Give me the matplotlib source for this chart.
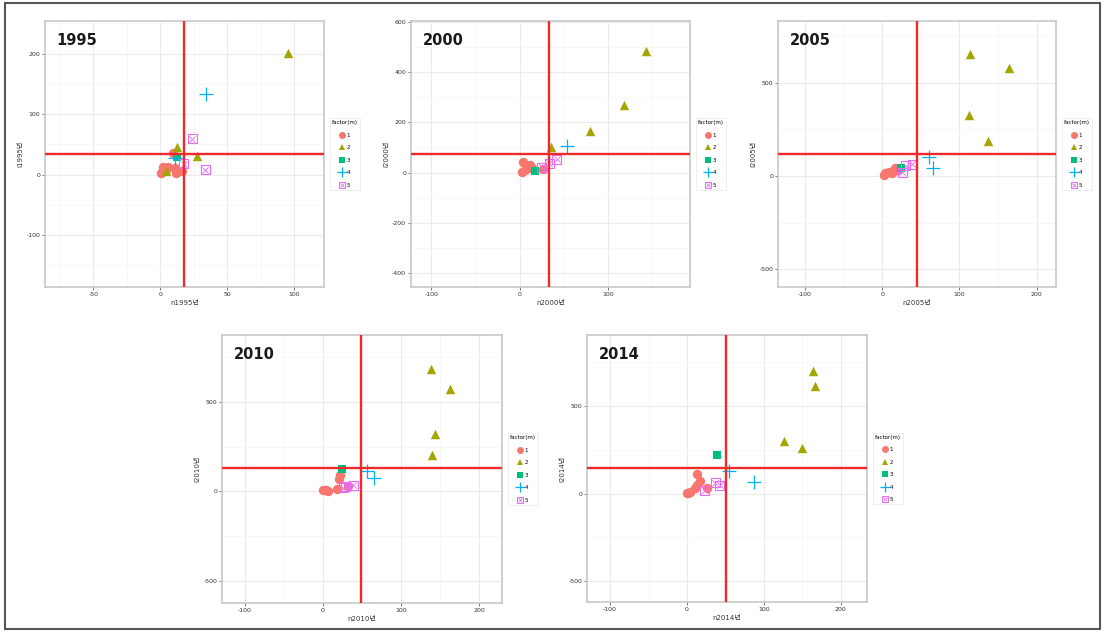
import matplotlib
matplotlib.use("Agg")
import matplotlib.pyplot as plt
from matplotlib.lines import Line2D
from matplotlib.patches import Rectangle

plt.rcParams['font.family'] = ['DejaVu Sans', 'Noto Sans CJK KR']
plt.rcParams['axes.unicode_minus'] = False

# ---------------- data ----------------
years = ["1995", "2000", "2005", "2010", "2014"]
factor_levels = ["1", "2", "3", "4", "5"]
factor_colors = ["#F8766D", "#A3A500", "#00BF7D", "#00B0F6", "#E76BF3"]

n_1995 = [9.4, 2.0, 0.5, 4.0, 5.5, 10.7, 12.0, 16.0, 95.0, 12.4, 27.6, 4.5, 12.4, 34.3, 11.0, 23.9, 17.6, 33.6]
i_1995 = [36.4, 12.0, 3.0, 8.0, 12.0, 10.6, 3.3, 6.0, 201.0, 45.0, 31.0, 6.0, 29.0, 133.0, 28.0, 59.0, 17.7, 7.8]
g_1995 = [1, 1, 1, 1, 1, 1, 1, 1, 2, 2, 2, 2, 3, 4, 4, 5, 5, 5]

n_2000 = [4.0, 2.2, 7.9, 11.7, 13.6, 9.7, 6.0, 26.7, 143.0, 118.0, 80.0, 36.0, 17.3, 54.0, 25.0, 33.5, 42.0]
i_2000 = [44.0, 4.0, 17.0, 30.6, 20.0, 28.0, 9.0, 13.5, 485.0, 269.0, 166.0, 103.0, 8.0, 105.0, 21.0, 37.0, 53.0]
g_2000 = [1, 1, 1, 1, 1, 1, 1, 1, 2, 2, 2, 2, 3, 4, 5, 5, 5]

n_2005 = [2.0, 4.0, 8.5, 14.0, 17.0, 20.0, 13.0, 114.0, 164.0, 112.7, 136.8, 24.6, 60.4, 66.0, 30.2, 38.8, 26.0]
i_2005 = [5.0, 14.0, 23.0, 27.0, 41.0, 32.0, 14.0, 657.0, 578.0, 325.0, 189.0, 41.0, 100.0, 41.0, 55.0, 64.0, 20.0]
g_2005 = [1, 1, 1, 1, 1, 1, 1, 2, 2, 2, 2, 3, 4, 4, 5, 5, 5]

n_2010 = [21.8, 21.0, 0.4, 3.8, 6.0, 17.5, 32.5, 138.0, 163.0, 143.0, 139.0, 24.0, 56.0, 65.4, 26.0, 39.0, 29.0]
i_2010 = [91.0, 72.0, 7.0, 7.0, 1.0, 13.0, 30.0, 681.0, 571.0, 318.0, 204.0, 128.0, 117.0, 76.0, 22.0, 35.0, 28.0]
g_2010 = [1, 1, 1, 1, 1, 1, 1, 2, 2, 2, 2, 3, 4, 4, 5, 5, 5]

n_2014 = [13.0, 16.5, 13.5, 11.0, 26.5, 1.3, 3.5, 0.0, 164.0, 166.0, 126.0, 150.0, 39.6, 54.7, 86.8, 37.0, 42.6, 23.0]
i_2014 = [114.0, 72.0, 47.6, 30.0, 34.0, 5.7, 9.0, 3.0, 702.0, 614.0, 301.0, 263.0, 219.0, 129.0, 66.0, 61.0, 47.6, 19.0]
g_2014 = [1, 1, 1, 1, 1, 1, 1, 1, 2, 2, 2, 2, 3, 4, 4, 5, 5, 5]

vline = [17.6, 33.5, 45.3, 49.0, 51.3]
hline = [34.2, 75.5, 117.8, 130.0, 146.5]

xlims = [(-86, 122), (-123, 193), (-135, 225), (-129, 229), (-130, 234)]
ylims = [(-186, 254), (-456, 604), (-596, 832), (-622, 873), (-620, 906)]
xticks = [[-50, 0, 50, 100], [-100, 0, 100], [-100, 0, 100, 200], [-100, 0, 100, 200], [-100, 0, 100, 200]]
yticks = [[-100, 0, 100, 200], [-400, -200, 0, 200, 400, 600], [-500, 0, 500], [-500, 0, 500], [-500, 0, 500]]

all_n = [n_1995, n_2000, n_2005, n_2010, n_2014]
all_i = [i_1995, i_2000, i_2005, i_2010, i_2014]
all_g = [g_1995, g_2000, g_2005, g_2010, g_2014]

# ---------------- layout (pixels) ----------------
W, H = 1104, 633
fig = plt.figure(figsize=(W / 100, H / 100), dpi=100)
boxes = [(45, 21, 324, 287), (411, 21, 690, 287), (778, 21, 1056, 287),
         (222, 335, 502, 603), (587, 335, 867, 602)]

fig.add_artist(Rectangle((5 / W, 1 - 629 / H), 1095 / W, 626 / H,
                         transform=fig.transFigure, fill=False,
                         edgecolor="#555555", linewidth=1.5))

grey92 = "#ebebeb"
marker_size = 46


def draw_points(ax, xs, ys, g):
    col = factor_colors[g - 1]
    if g == 1:
        ax.scatter(xs, ys, s=marker_size, marker="o", color=col, linewidths=0, zorder=3)
    elif g == 2:
        ax.scatter(xs, ys, s=marker_size, marker="^", color=col, linewidths=0, zorder=3)
    elif g == 3:
        ax.scatter(xs, ys, s=marker_size * 0.8, marker="s", color=col, linewidths=0, zorder=3)
    elif g == 4:
        ax.scatter(xs, ys, s=marker_size * 2.0, marker="+", color=col, linewidths=0.9, zorder=3)
    else:
        ax.scatter(xs, ys, s=marker_size * 0.9, marker="s", facecolors="none",
                   edgecolors=col, linewidths=0.8, zorder=3)
        ax.scatter(xs, ys, s=marker_size * 0.45, marker="x", color=col,
                   linewidths=0.6, zorder=3)


def minor_positions(t, lo, hi):
    step = t[1] - t[0]
    vals = [t[0] - step / 2 + j * step for j in range(-2, len(t) + 3)]
    return [v for v in vals if lo < v < hi and v not in t]


for k, yr in enumerate(years):
    l, t, r, b = boxes[k]
    ax = fig.add_axes([l / W, 1 - b / H, (r - l) / W, (b - t) / H])
    ax.set_xticks(xticks[k])
    ax.set_yticks(yticks[k])
    ax.set_xticks(minor_positions(xticks[k], *xlims[k]), minor=True)
    ax.set_yticks(minor_positions(yticks[k], *ylims[k]), minor=True)
    ax.set_xlim(*xlims[k])
    ax.set_ylim(*ylims[k])
    ax.grid(True, which="major", color=grey92, linewidth=0.8)
    ax.grid(True, which="minor", color="#f4f4f4", linewidth=0.5)
    ax.set_axisbelow(True)
    ax.tick_params(which="major", labelsize=4.5, length=2, width=0.5,
                   color="#444444", labelcolor="#333333", pad=1.5)
    ax.tick_params(which="minor", length=0)
    for sp in ax.spines.values():
        sp.set_color("#c8c8c8")
        sp.set_linewidth(1.2)
    ax.set_xlabel("n" + yr + "년", fontsize=5, color="#333333", labelpad=2)
    ax.set_ylabel("i" + yr + "년", fontsize=5, color="#333333", labelpad=2)

    xs_all, ys_all, gs_all = all_n[k], all_i[k], all_g[k]
    for g in [1, 2, 3, 4, 5]:
        xs = [x for x, gg in zip(xs_all, gs_all) if gg == g]
        ys = [y for y, gg in zip(ys_all, gs_all) if gg == g]
        if xs:
            draw_points(ax, xs, ys, g)

    ax.axvline(vline[k], color="#ee2a2a", linewidth=1.7, zorder=4)
    ax.axhline(hline[k], color="#ee2a2a", linewidth=1.7, zorder=4)

    ax.text(0.042, 0.955, yr, transform=ax.transAxes, fontsize=10.5,
            fontweight="bold", color="#1a1a1a", va="top", ha="left")

    handles = [
        Line2D([], [], linestyle="none", marker="o", color=factor_colors[0], markersize=5, markeredgewidth=0),
        Line2D([], [], linestyle="none", marker="^", color=factor_colors[1], markersize=5, markeredgewidth=0),
        Line2D([], [], linestyle="none", marker="s", color=factor_colors[2], markersize=4.5, markeredgewidth=0),
        Line2D([], [], linestyle="none", marker="+", color=factor_colors[3], markersize=7, markeredgewidth=0.9),
        (Line2D([], [], linestyle="none", marker="s", markerfacecolor="none",
                markeredgecolor=factor_colors[4], markersize=5, markeredgewidth=0.7),
         Line2D([], [], linestyle="none", marker="x", color=factor_colors[4],
                markersize=3.2, markeredgewidth=0.6)),
    ]
    leg = ax.legend(handles, factor_levels, title="factor(m)", loc="center left",
                    bbox_to_anchor=(1.015, 0.5), fontsize=4, title_fontsize=4,
                    frameon=True, handlelength=0.9, handletextpad=0.35,
                    labelspacing=1.35, borderpad=0.35, borderaxespad=0.3,
                    fancybox=False)
    leg.get_frame().set_edgecolor("#e6e6e6")
    leg.get_frame().set_linewidth(0.6)

fig.savefig("out.png", dpi=100)
